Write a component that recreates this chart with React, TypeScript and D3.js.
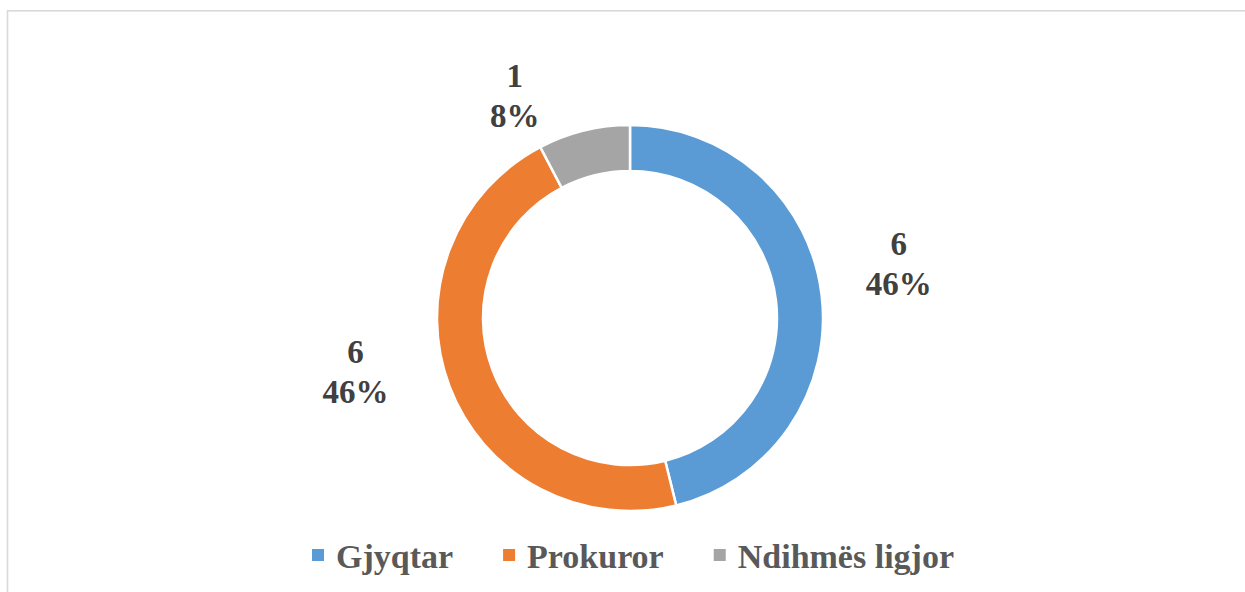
import React, { useEffect, useRef } from "react";
import * as d3 from "d3";

const categories = ["Gjyqtar", "Prokuror", "Ndihmës ligjor"];
const values = [6, 6, 1];
const percents = ["46%", "46%", "8%"];
const colors = ["#5B9BD5", "#ED7D31", "#A5A5A5"];

// label placement: angle nudge (deg) from slice middle, distance from centre
const labelNudge = [
  { da: -4.2, r: 274 },
  { da: 9.5, r: 280 },
  { da: -13.7, r: 249 },
];

const W = 1245;
const H = 592;
const FONT = "Times New Roman, Times, Liberation Serif, serif";

export default function App() {
  const ref = useRef<SVGSVGElement>(null);

  useEffect(() => {
    const svg = d3.select(ref.current);
    svg.selectAll("*").remove();

    // chart area border
    svg
      .append("rect")
      .attr("x", 7.5)
      .attr("y", 10.8)
      .attr("width", 1400)
      .attr("height", 800)
      .attr("fill", "#fff")
      .attr("stroke", "#d9d9d9")
      .attr("stroke-width", 1.6);

    const cx = 630;
    const cy = 318;
    const outerR = 193;
    const innerR = 147;

    const pie = d3
      .pie<number>()
      .sort(null)
      .value((d) => d);
    const arcs = pie(values);
    const arc = d3
      .arc<d3.PieArcDatum<number>>()
      .innerRadius(innerR)
      .outerRadius(outerR);

    const g = svg.append("g").attr("transform", `translate(${cx},${cy})`);

    g.selectAll("path")
      .data(arcs)
      .enter()
      .append("path")
      .attr("d", arc)
      .attr("fill", (_, i) => colors[i])
      .attr("stroke", "#fff")
      .attr("stroke-width", 2.5);

    const labels = g
      .selectAll("text.lbl")
      .data(arcs)
      .enter()
      .append("text")
      .attr("class", "lbl")
      .attr("text-anchor", "middle")
      .style("font-family", FONT)
      .attr("font-weight", "bold")
      .attr("font-size", 33)
      .attr("fill", "#404040")
      .attr("transform", (d, i) => {
        const a = (d.startAngle + d.endAngle) / 2 + (labelNudge[i].da * Math.PI) / 180;
        const x = Math.sin(a) * labelNudge[i].r;
        const y = -Math.cos(a) * labelNudge[i].r;
        return `translate(${x},${y})`;
      });
    labels
      .append("tspan")
      .attr("x", 0)
      .attr("y", -10)
      .text((d) => String(d.value));
    labels
      .append("tspan")
      .attr("x", 0)
      .attr("y", 30)
      .text((_, i) => percents[i]);

    // legend
    const legend = svg.append("g");
    const sq = 12;
    const gapText = 12;
    const gapItem = 50;
    const items = categories.map((c, i) => {
      const t = legend
        .append("text")
        .style("font-family", FONT)
        .attr("font-weight", "bold")
        .attr("font-size", 34)
        .attr("fill", "#595959")
        .attr("y", 568)
        .text(c);
      const w = (t.node() as SVGTextElement).getComputedTextLength();
      return { t, w, i };
    });
    const total =
      items.reduce((s, it) => s + sq + gapText + it.w, 0) + gapItem * (items.length - 1);
    let x = 633 - total / 2;
    items.forEach((it) => {
      legend
        .append("rect")
        .attr("x", x)
        .attr("y", 549)
        .attr("width", sq)
        .attr("height", sq)
        .attr("fill", colors[it.i]);
      it.t.attr("x", x + sq + gapText);
      x += sq + gapText + it.w + gapItem;
    });
  }, []);

  return (
    <svg
      ref={ref}
      width={W}
      height={H}
      style={{ position: "absolute", left: 0, top: 0, background: "#fff" }}
    />
  );
}
